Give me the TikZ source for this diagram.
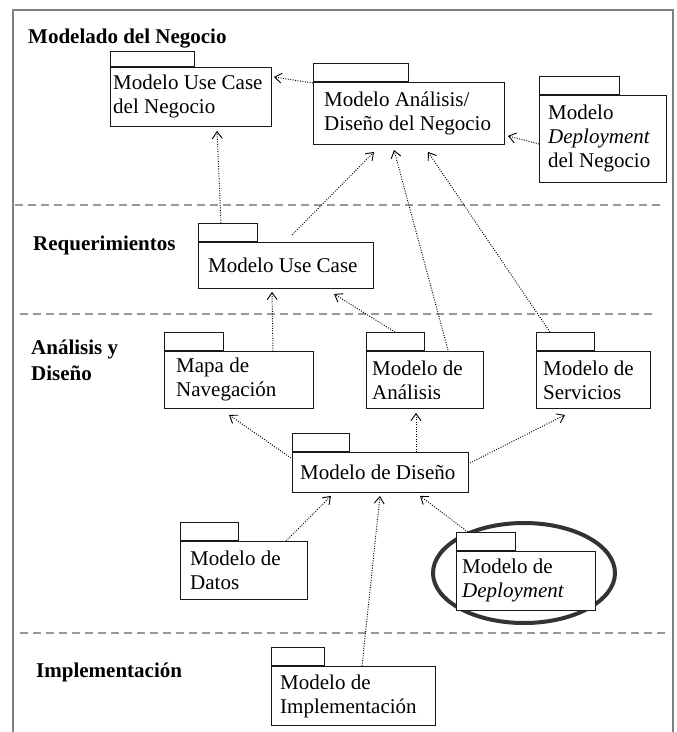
\documentclass[tikz,border=0pt]{standalone}
\usepackage{fontspec}
\setmainfont{Liberation Serif}
\usetikzlibrary{arrows.meta,calc}

\tikzset{
  pkgbody/.style={rectangle, draw=black!90, line width=0.9pt, fill=white, inner sep=0pt, anchor=north west},
  pkgtab/.style={rectangle, draw=black!90, line width=0.9pt, fill=white, inner sep=0pt, anchor=south west},
  pkgtext/.style={inner sep=0pt, anchor=west, align=left, font=\fontsize{21}{24}\selectfont},
  layer/.style={inner sep=0pt, anchor=base west, font=\fontsize{21}{26}\selectfont\bfseries},
  dep/.style={line width=0.95pt, dash pattern=on 0.95pt off 1.5pt,
    -{Straight Barb[length=7pt,width=10pt,line width=0.9pt]}},
  frameline/.style={draw=black!50, line width=1.5pt},
  sep/.style={draw=black!40, line width=1.5pt, dash pattern=on 8pt off 5pt},
  focus/.style={draw=black!80, line width=4pt},
}

% #1 name, #2 left, #3 tab right, #4 tab top, #5 body top, #6 bottom, #7 right,
% #8 text indent, #9 text
\newcommand\pkgbox[9]{%
  \node[pkgtab, minimum width={(#3-#2)*1pt}, minimum height={(#5-#4)*1pt}] (#1-tab) at (#2,#5) {};
  \node[pkgbody, minimum width={(#7-#2)*1pt}, minimum height={(#6-#5)*1pt}] (#1) at (#2,#5) {};
  \node[pkgtext] (#1-txt) at ([xshift=#8pt]#1.west) {#9};
}

\begin{document}
\begin{tikzpicture}[x=1pt, y=-1pt]
\useasboundingbox (0,0) rectangle (677,732);

% outer frame, open at the bottom
\draw[frameline] (13,732) -- (13,10) -- (673,10) -- (673,732);

% layer separators
\draw[sep] (15,205) -- (664,205);
\draw[sep] (20,314) -- (656,314);
\draw[sep] (20,633) -- (670,633);

% layer titles
\node[layer] (l1) at (28,43) {Modelado del Negocio};
\node[layer] (l2) at (33,250) {Requerimientos};
\node[layer] (l3a) at (31,354) {Análisis y};
\node[layer] (l3b) at (31,380) {Diseño};
\node[layer] (l4) at (36,677) {Implementación};

% highlight around the deployment model
\draw[focus] (524,573) ellipse [x radius=91, y radius=50];

% packages
\pkgbox{b1}{110}{194}{52}{67}{126}{271}{3}{Modelo Use Case\\del Negocio}
\pkgbox{b2}{313}{408}{64}{82}{144}{504}{11}{Modelo Análisis/\\Diseño del Negocio}
\pkgbox{b3}{539}{619}{77}{95}{182}{666}{9}{Modelo\\\emph{Deployment}\\del Negocio}
\pkgbox{b4}{198}{257}{224}{242}{288}{373}{10}{Modelo Use Case}
\pkgbox{b5}{164}{223}{333}{351}{408}{313}{12}{Mapa de\\Navegación}
\pkgbox{b6}{366}{424}{333}{351}{408}{483}{6}{Modelo de\\Análisis}
\pkgbox{b7}{536}{594}{333}{351}{408}{650}{7}{Modelo de\\Servicios}
\pkgbox{b8}{292}{349}{434}{452}{492}{468}{8}{Modelo de Diseño}
\pkgbox{b9}{180}{238}{523}{541}{599}{307}{10}{Modelo de\\Datos}
\pkgbox{b10}{456}{515}{533}{551}{610}{595}{6}{Modelo de\\\emph{Deployment}}
\pkgbox{b11}{271}{324}{648}{666}{725}{435}{9}{Modelo de\\Implementación}

% dependencies
\draw[dep] ($(b2.north west)+(0,1)$) -- ($(b1.north east)+(2,10)$);
\draw[dep] ($(b3.north west)+(0,49)$) -- ($(b2.south east)+(3,-9)$);
\draw[dep] ($(b4-tab.north west)+(23,0)$) -- ($(b1.south west)+(107,4)$);
\draw[dep] ($(b4.north west)+(94,-7)$) -- ($(b2.south west)+(61,7)$);
\draw[dep] ($(b6.north west)+(82,-1)$) -- ($(b2.south west)+(81,5)$);
\draw[dep] ($(b7-tab.north west)+(14,0)$) -- ($(b2.south west)+(115,7)$);
\draw[dep] ($(b5.north west)+(109,0)$) -- ($(b4.south west)+(74,3)$);
\draw[dep] ($(b6-tab.north west)+(29,0)$) -- ($(b4.south west)+(136,5)$);
\draw[dep] ($(b8.north west)+(-1,6)$) -- ($(b5.south west)+(65,6)$);
\draw[dep] ($(b8.north west)+(124,0)$) -- ($(b6.south west)+(50,4)$);
\draw[dep] ($(b8.north east)+(1,11)$) -- ($(b7.south west)+(29,6)$);
\draw[dep] ($(b9.north west)+(106,0)$) -- ($(b8.south west)+(39,3)$);
\draw[dep] ($(b11.north west)+(91,0)$) -- ($(b8.south west)+(88,3)$);
\draw[dep] ($(b10-tab.north west)+(12,0)$) -- ($(b8.south west)+(128,3)$);
\end{tikzpicture}
\end{document}
